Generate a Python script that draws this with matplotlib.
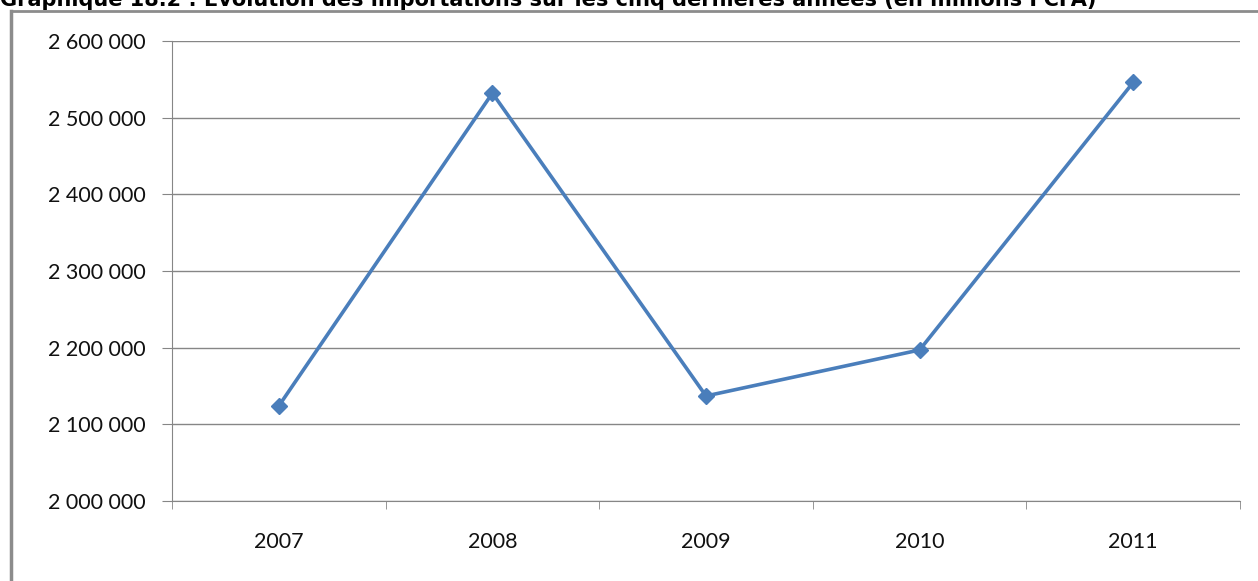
import matplotlib
matplotlib.use("Agg")
import matplotlib.pyplot as plt
from matplotlib.lines import Line2D
from matplotlib.ticker import FuncFormatter

years = ["2007", "2008", "2009", "2010", "2011"]
imports = [2124000, 2532000, 2137000, 2197000, 2546000]
yticks = [2000000, 2100000, 2200000, 2300000, 2400000, 2500000, 2600000]
title = "Graphique 18.2 : Evolution des importations sur les cinq dernières années (en millions FCFA)"

W, H = 1258, 581
fig = plt.figure(figsize=(W / 100, H / 100), dpi=100)
fig.patch.set_facecolor("white")

# outer frame
fig.add_artist(Line2D([10.5 / W, 10.5 / W], [0, 1 - 11 / H], transform=fig.transFigure,
                      color="#8c8c8c", lw=2.5))
fig.add_artist(Line2D([10.5 / W, 1], [1 - 11 / H, 1 - 11 / H], transform=fig.transFigure,
                      color="#8c8c8c", lw=2))

fig.text(0.0, 1 - 6 / H, title, ha="left", va="baseline", fontsize=15,
         fontweight="bold", family="DejaVu Sans", color="black")

ax = fig.add_axes([172 / W, 80 / H, 1068 / W, 460 / H])
x = list(range(len(years)))
ax.plot(x, imports, color="#4a7ebb", lw=2.6, marker="D", markersize=8,
        markerfacecolor="#4a7ebb", markeredgecolor="#4a7ebb", zorder=3)

ax.set_xlim(-0.5, len(years) - 0.5)
ax.set_ylim(yticks[0], yticks[-1])
ax.set_yticks(yticks)
ax.yaxis.set_major_formatter(FuncFormatter(lambda v, p: f"{int(v):,}".replace(",", " ")))
ax.set_xticks(x)
ax.set_xticklabels(years)
ax.set_xticks([i - 0.5 for i in range(len(years) + 1)], minor=True)
ax.tick_params(axis="x", which="major", length=0, pad=22)
ax.tick_params(axis="x", which="minor", length=6, color="#868686", direction="out")
ax.tick_params(axis="y", length=7, color="#868686", pad=12)
for lab in ax.get_xticklabels() + ax.get_yticklabels():
    lab.set_fontfamily("Lato")
    lab.set_fontsize(15.5)
    lab.set_color("#111111")

ax.grid(axis="y", color="#868686", lw=1)
ax.set_axisbelow(True)
for s in ["top", "right"]:
    ax.spines[s].set_visible(False)
ax.spines["left"].set_color("#868686")
ax.spines["bottom"].set_color("#868686")

fig.savefig("out.png", dpi=100)
